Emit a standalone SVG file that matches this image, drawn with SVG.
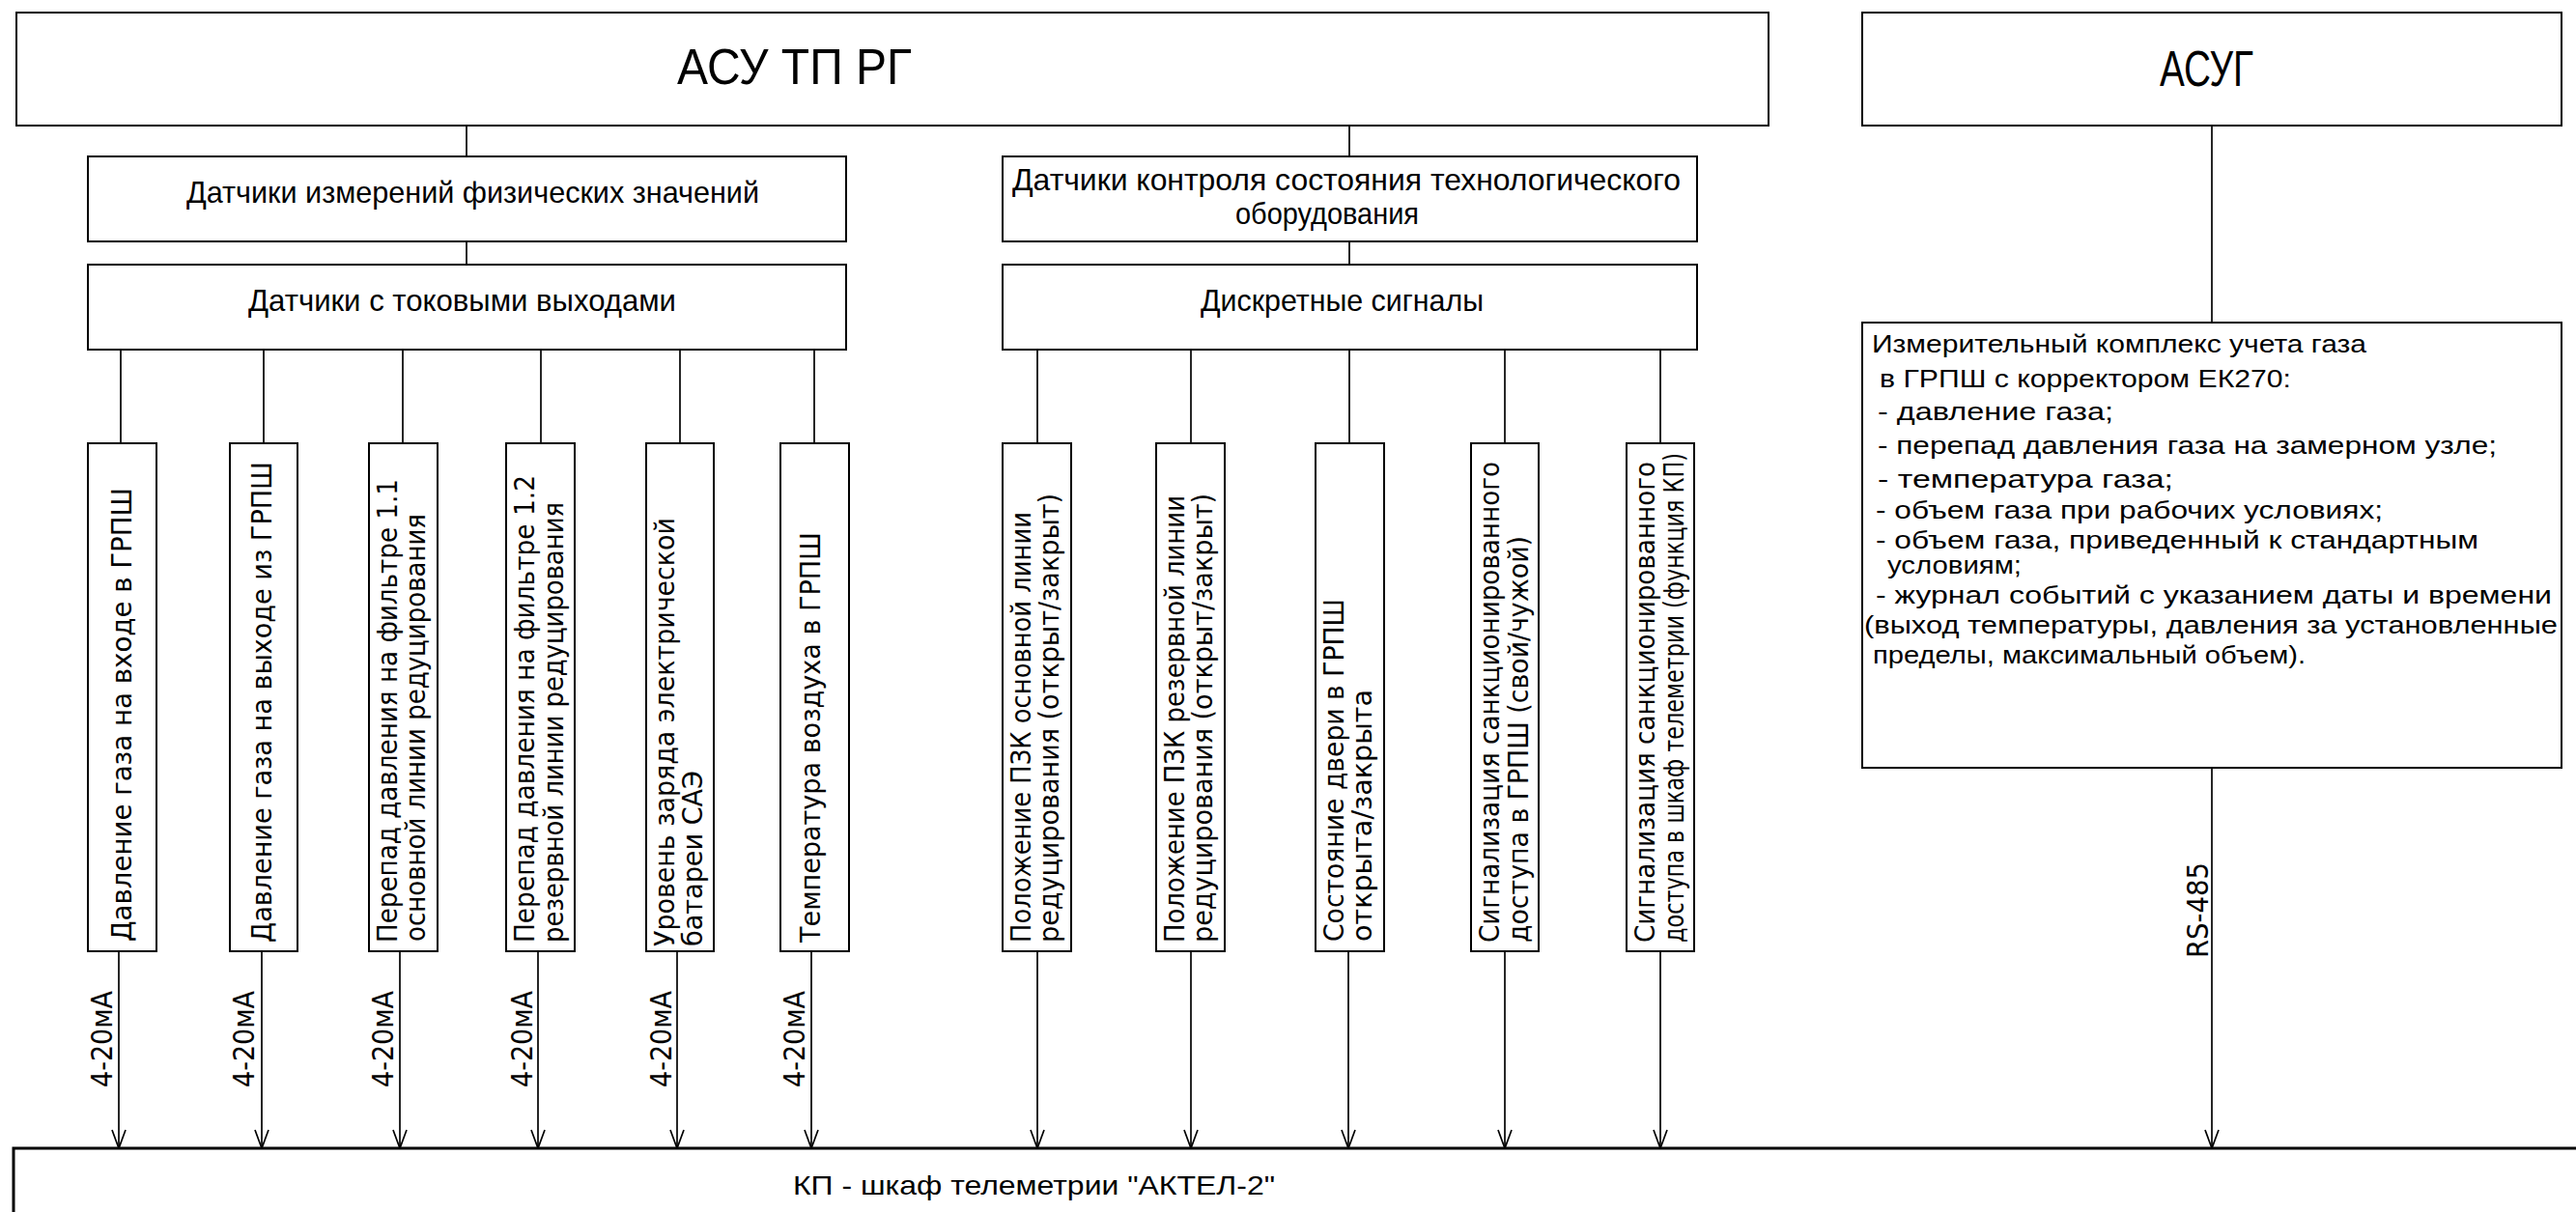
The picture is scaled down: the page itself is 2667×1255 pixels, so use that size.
<svg xmlns="http://www.w3.org/2000/svg" width="2667" height="1255" viewBox="0 0 2667 1255">
<style>
.box{fill:#fff;stroke:#000;stroke-width:2}
.ln{fill:none;stroke:#000;stroke-width:1.7}
.t{font-family:"Liberation Sans",Arial,sans-serif;fill:#000}
.w{font-family:"DejaVu Sans","Liberation Sans",sans-serif;fill:#000}
.h1{font-size:52px}
.h2{font-size:32px}
.tx{font-size:26px}
.v{font-size:29px}
.lb{font-size:30px}
</style>
<defs>
<marker id="arr" markerUnits="userSpaceOnUse" orient="auto" refX="0" refY="0" markerWidth="24" markerHeight="18" overflow="visible">
<path d="M-19,-7 L0,0 L-19,7" fill="none" stroke="#000" stroke-width="1.7"/>
</marker>
</defs>
<rect width="2667" height="1255" fill="#fff"/>

<g id="connectors">
<line class="ln" x1="483" y1="130" x2="483" y2="162"/>
<line class="ln" x1="483" y1="250" x2="483" y2="274"/>
<line class="ln" x1="1397" y1="130" x2="1397" y2="162"/>
<line class="ln" x1="1397" y1="250" x2="1397" y2="274"/>
<line class="ln" x1="2290" y1="130" x2="2290" y2="334"/>
<line class="ln" x1="125" y1="362" x2="125" y2="459"/>
<line class="ln" x1="273" y1="362" x2="273" y2="459"/>
<line class="ln" x1="417" y1="362" x2="417" y2="459"/>
<line class="ln" x1="560" y1="362" x2="560" y2="459"/>
<line class="ln" x1="704" y1="362" x2="704" y2="459"/>
<line class="ln" x1="843" y1="362" x2="843" y2="459"/>
<line class="ln" x1="1074" y1="362" x2="1074" y2="459"/>
<line class="ln" x1="1233" y1="362" x2="1233" y2="459"/>
<line class="ln" x1="1397" y1="362" x2="1397" y2="459"/>
<line class="ln" x1="1558" y1="362" x2="1558" y2="459"/>
<line class="ln" x1="1719" y1="362" x2="1719" y2="459"/>
<line class="ln" x1="123" y1="985" x2="123" y2="1189" marker-end="url(#arr)"/>
<line class="ln" x1="271" y1="985" x2="271" y2="1189" marker-end="url(#arr)"/>
<line class="ln" x1="414" y1="985" x2="414" y2="1189" marker-end="url(#arr)"/>
<line class="ln" x1="557" y1="985" x2="557" y2="1189" marker-end="url(#arr)"/>
<line class="ln" x1="701" y1="985" x2="701" y2="1189" marker-end="url(#arr)"/>
<line class="ln" x1="840" y1="985" x2="840" y2="1189" marker-end="url(#arr)"/>
<line class="ln" x1="1074" y1="985" x2="1074" y2="1189" marker-end="url(#arr)"/>
<line class="ln" x1="1233" y1="985" x2="1233" y2="1189" marker-end="url(#arr)"/>
<line class="ln" x1="1396" y1="985" x2="1396" y2="1189" marker-end="url(#arr)"/>
<line class="ln" x1="1558" y1="985" x2="1558" y2="1189" marker-end="url(#arr)"/>
<line class="ln" x1="1719" y1="985" x2="1719" y2="1189" marker-end="url(#arr)"/>
<line class="ln" x1="2290" y1="795" x2="2290" y2="1189" marker-end="url(#arr)"/>
<g class="w lb">
<text transform="rotate(-90)" x="-1126" y="116" textLength="100" lengthAdjust="spacingAndGlyphs">4-20мА</text>
<text transform="rotate(-90)" x="-1126" y="263" textLength="100" lengthAdjust="spacingAndGlyphs">4-20мА</text>
<text transform="rotate(-90)" x="-1126" y="407" textLength="100" lengthAdjust="spacingAndGlyphs">4-20мА</text>
<text transform="rotate(-90)" x="-1126" y="551" textLength="100" lengthAdjust="spacingAndGlyphs">4-20мА</text>
<text transform="rotate(-90)" x="-1126" y="695" textLength="100" lengthAdjust="spacingAndGlyphs">4-20мА</text>
<text transform="rotate(-90)" x="-1126" y="833" textLength="100" lengthAdjust="spacingAndGlyphs">4-20мА</text>
<text transform="rotate(-90)" x="-992" y="2286" textLength="99" lengthAdjust="spacingAndGlyphs">RS-485</text>
</g>
</g>

<g id="asu-tp-rg">
<rect class="box" x="17" y="13" width="1814" height="117"/>
<text class="t h1" x="701" y="87" textLength="243" lengthAdjust="spacingAndGlyphs">АСУ ТП РГ</text>
</g>
<g id="asug">
<rect class="box" x="1928" y="13" width="724" height="117"/>
<text class="t h1" x="2236" y="89" textLength="97" lengthAdjust="spacingAndGlyphs">АСУГ</text>
</g>
<g id="sensors-phys">
<rect class="box" x="91" y="162" width="785" height="88"/>
<text class="t h2" x="193" y="210" textLength="593" lengthAdjust="spacingAndGlyphs">Датчики измерений физических значений</text>
</g>
<g id="sensors-current">
<rect class="box" x="91" y="274" width="785" height="88"/>
<text class="t h2" x="257" y="322" textLength="443" lengthAdjust="spacingAndGlyphs">Датчики с токовыми выходами</text>
</g>
<g id="sensors-state">
<rect class="box" x="1038" y="162" width="719" height="88"/>
<text class="t h2" x="1048" y="197" textLength="692" lengthAdjust="spacingAndGlyphs">Датчики контроля состояния технологического</text>
<text class="t h2" x="1279" y="232" textLength="190" lengthAdjust="spacingAndGlyphs">оборудования</text>
</g>
<g id="discrete">
<rect class="box" x="1038" y="274" width="719" height="88"/>
<text class="t h2" x="1243" y="322" textLength="293" lengthAdjust="spacingAndGlyphs">Дискретные сигналы</text>
</g>

<g id="b1">
<rect class="box" x="91" y="459" width="71" height="526"/>
<text class="w v" transform="rotate(-90)" x="-975" y="136" textLength="470" lengthAdjust="spacingAndGlyphs">Давление газа на входе в ГРПШ</text>
</g>
<g id="b2">
<rect class="box" x="238" y="459" width="70" height="526"/>
<text class="w v" transform="rotate(-90)" x="-976" y="281" textLength="498" lengthAdjust="spacingAndGlyphs">Давление газа на выходе из ГРПШ</text>
</g>
<g id="b3">
<rect class="box" x="382" y="459" width="71" height="526"/>
<text class="w v" transform="rotate(-90)" x="-976" y="411" textLength="480" lengthAdjust="spacingAndGlyphs">Перепад давления на фильтре 1.1</text>
<text class="w v" transform="rotate(-90)" x="-975" y="440" textLength="443" lengthAdjust="spacingAndGlyphs">основной линии редуцирования</text>
</g>
<g id="b4">
<rect class="box" x="524" y="459" width="71" height="526"/>
<text class="w v" transform="rotate(-90)" x="-976" y="553" textLength="484" lengthAdjust="spacingAndGlyphs">Перепад давления на фильтре 1.2</text>
<text class="w v" transform="rotate(-90)" x="-976" y="583" textLength="456" lengthAdjust="spacingAndGlyphs">резервной линии редуцирования</text>
</g>
<g id="b5">
<rect class="box" x="669" y="459" width="70" height="526"/>
<text class="w v" transform="rotate(-90)" x="-980" y="698" textLength="444" lengthAdjust="spacingAndGlyphs">Уровень заряда электрической</text>
<text class="w v" transform="rotate(-90)" x="-980" y="727" textLength="182" lengthAdjust="spacingAndGlyphs">батареи САЭ</text>
</g>
<g id="b6">
<rect class="box" x="808" y="459" width="71" height="526"/>
<text class="w v" transform="rotate(-90)" x="-976" y="849" textLength="425" lengthAdjust="spacingAndGlyphs">Температура воздуха в ГРПШ</text>
</g>

<g id="d1">
<rect class="box" x="1038" y="459" width="71" height="526"/>
<text class="w v" transform="rotate(-90)" x="-976" y="1067" textLength="446" lengthAdjust="spacingAndGlyphs">Положение ПЗК основной линии</text>
<text class="w v" transform="rotate(-90)" x="-976" y="1096" textLength="465" lengthAdjust="spacingAndGlyphs">редуцирования (открыт/закрыт)</text>
</g>
<g id="d2">
<rect class="box" x="1197" y="459" width="71" height="526"/>
<text class="w v" transform="rotate(-90)" x="-976" y="1226" textLength="463" lengthAdjust="spacingAndGlyphs">Положение ПЗК резервной линии</text>
<text class="w v" transform="rotate(-90)" x="-976" y="1255" textLength="465" lengthAdjust="spacingAndGlyphs">редуцирования (открыт/закрыт)</text>
</g>
<g id="d3">
<rect class="box" x="1362" y="459" width="71" height="526"/>
<text class="w v" transform="rotate(-90)" x="-975" y="1391" textLength="355" lengthAdjust="spacingAndGlyphs">Состояние двери в ГРПШ</text>
<text class="w v" transform="rotate(-90)" x="-975" y="1420" textLength="261" lengthAdjust="spacingAndGlyphs">открыта/закрыта</text>
</g>
<g id="d4">
<rect class="box" x="1523" y="459" width="70" height="526"/>
<text class="w v" transform="rotate(-90)" x="-976" y="1552" textLength="498" lengthAdjust="spacingAndGlyphs">Сигнализация санкционированного</text>
<text class="w v" transform="rotate(-90)" x="-976" y="1582" textLength="421" lengthAdjust="spacingAndGlyphs">доступа в ГРПШ (свой/чужой)</text>
</g>
<g id="d5">
<rect class="box" x="1684" y="459" width="70" height="526"/>
<text class="w v" transform="rotate(-90)" x="-976" y="1713" textLength="498" lengthAdjust="spacingAndGlyphs">Сигнализация санкционированного</text>
<text class="w v" transform="rotate(-90)" x="-976" y="1743" textLength="507" lengthAdjust="spacingAndGlyphs">доступа в шкаф телеметрии (функция КП)</text>
</g>

<g id="meter">
<rect class="box" x="1928" y="334" width="724" height="461"/>
<g class="t tx">
<text x="1938" y="365" textLength="512" lengthAdjust="spacingAndGlyphs">Измерительный комплекс учета газа</text>
<text x="1946" y="401" textLength="426" lengthAdjust="spacingAndGlyphs">в ГРПШ с корректором ЕК270:</text>
<text x="1944" y="435" textLength="244" lengthAdjust="spacingAndGlyphs">- давление газа;</text>
<text x="1944" y="470" textLength="641" lengthAdjust="spacingAndGlyphs">- перепад давления газа на замерном узле;</text>
<text x="1944" y="505" textLength="306" lengthAdjust="spacingAndGlyphs">- температура газа;</text>
<text x="1942" y="537" textLength="525" lengthAdjust="spacingAndGlyphs">- объем газа при рабочих условиях;</text>
<text x="1942" y="568" textLength="624" lengthAdjust="spacingAndGlyphs">- объем газа, приведенный к стандартным</text>
<text x="1954" y="594" textLength="139" lengthAdjust="spacingAndGlyphs">условиям;</text>
<text x="1942" y="625" textLength="700" lengthAdjust="spacingAndGlyphs">- журнал событий с указанием даты и времени</text>
<text x="1930" y="656" textLength="718" lengthAdjust="spacingAndGlyphs">(выход температуры, давления за установленные</text>
<text x="1939" y="687" textLength="448" lengthAdjust="spacingAndGlyphs">пределы, максимальный объем).</text>
</g>
</g>

<g id="kp">
<rect x="14" y="1189" width="2700" height="120" fill="#fff" stroke="#000" stroke-width="3"/>
<text class="t" font-size="28" x="821" y="1237" textLength="499" lengthAdjust="spacingAndGlyphs">КП - шкаф телеметрии "АКТЕЛ-2"</text>
</g>
</svg>
